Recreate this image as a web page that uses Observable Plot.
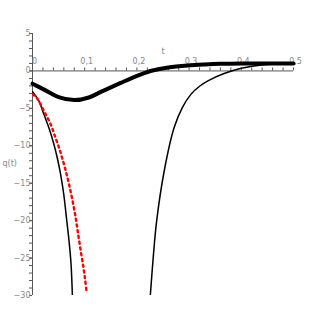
<!DOCTYPE html>
<html>
<head>
<meta charset="utf-8">
<script src="https://cdn.jsdelivr.net/npm/d3@7"></script>
<script src="https://cdn.jsdelivr.net/npm/@observablehq/plot@0.6"></script>
<style>
  html, body { margin: 0; padding: 0; background: #fff; }
  #chart svg { display: block; }
</style>
</head>
<body>
<div id="chart"></div>
<script>
// ---- data ----
const tThick = [0, 0.025, 0.05, 0.08, 0.108, 0.131, 0.15, 0.169, 0.19, 0.208, 0.23, 0.26, 0.2975, 0.33, 0.36, 0.4, 0.45, 0.5];
const qThick = [-1.7, -2.6, -3.5, -3.9, -3.55, -2.8, -2.2, -1.6, -0.95, -0.45, 0.05, 0.45, 0.72, 0.86, 0.95, 1.0, 1.0, 1.0];

const tThinA = [0, 0.0026, 0.0122, 0.0218, 0.0314, 0.041, 0.0474, 0.0538, 0.0595, 0.0625, 0.0655, 0.0686, 0.0718, 0.0742, 0.0764];
const qThinA = [-2.8, -3.0, -4.0, -5.8, -7.6, -9.8, -11.6, -13.8, -16.3, -18.0, -19.9, -21.8, -24.0, -26.2, -30.0];

const tThinB = [0.2257, 0.2313, 0.2379, 0.2525, 0.2712, 0.2870, 0.3038, 0.32, 0.336, 0.367, 0.4, 0.4385, 0.47, 0.5];
const qThinB = [-30.0, -24.9, -20.0, -13.3, -7.6, -4.9, -3.1, -2.05, -1.33, -0.35, 0.36, 0.8, 0.93, 0.98];

const tDots = [0, 0.0077, 0.0154, 0.025, 0.0346, 0.0429, 0.0506, 0.0571, 0.0635, 0.0698, 0.0763, 0.0827, 0.087, 0.0923, 0.0975, 0.1006, 0.1033];
const qDots = [-3.1, -3.56, -4.44, -5.77, -7.1, -8.7, -10.2, -11.7, -13.3, -15.1, -17.2, -19.6, -21.6, -24.0, -26.2, -27.8, -29.3];

const xTickValues = [0, 0.1, 0.2, 0.3, 0.4, 0.5];
const xTickLabels = ["0", "0,1", "0,2", "0,3", "0,4", "0,5"];
const xMinorTicks = [0.02, 0.04, 0.06, 0.08, 0.1, 0.12, 0.14, 0.16, 0.18, 0.2, 0.22, 0.24, 0.26, 0.28, 0.3,
                     0.32, 0.34, 0.36, 0.38, 0.4, 0.42, 0.44, 0.46, 0.48, 0.5];
const yTickValues = [5, 0, -5, -10, -15, -20, -25, -30];
const yMinorTicks = [5, 4, 3, 2, 1, 0, -1, -2, -3, -4, -5, -6, -7, -8, -9, -10, -11, -12, -13, -14, -15,
                     -16, -17, -18, -19, -20, -21, -22, -23, -24, -25, -26, -27, -28, -29, -30];
const xLabel = "t";
const yLabel = "q(t)";

const pts = (ts, qs) => ts.map((t, i) => ({t, q: qs[i]}));

const axisColor = "#555";
const textColor = "#888";

const chart = Plot.plot({
  width: 327,
  height: 327,
  marginLeft: 32,
  marginRight: 34,
  marginTop: 33,
  marginBottom: 32,
  style: {fontFamily: "DejaVu Sans", fontSize: "8px", background: "#fff"},
  x: {domain: [0, 0.5], axis: null},
  y: {domain: [-30, 5], axis: null},
  marks: [
    // y axis at t = 0 (left side of frame)
    Plot.ruleX([0], {stroke: axisColor, strokeWidth: 1}),
    Plot.axisY(yMinorTicks, {anchor: "left", tickSize: 3, tickFormat: () => "", label: null, stroke: axisColor}),
    Plot.axisY(yTickValues, {anchor: "left", tickSize: 3, tickPadding: -1, label: null, stroke: axisColor, fill: textColor, fontSize: 8}),
    // x axis at q = 0
    Plot.ruleY([0], {stroke: axisColor, strokeWidth: 1}),
    Plot.ruleX(xMinorTicks, {x: d => d, y1: 0, y2: 0, insetTop: -3, stroke: axisColor}),
    Plot.text(xTickValues, {x: d => d, y: 0, text: (d, i) => xTickLabels[i], dy: -9, dx: 2, fill: textColor, fontSize: 8}),
    // axis titles
    Plot.text([xLabel], {frameAnchor: "top", dy: 15, fill: textColor, fontSize: 8}),
    Plot.text([yLabel], {frameAnchor: "left", textAnchor: "start", dx: -30, dy: -1, fill: textColor, fontSize: 8, style: "letter-spacing:1.5px"}),
    // curves
    Plot.line(pts(tThick, qThick), {x: "t", y: "q", stroke: "black", strokeWidth: 4, curve: "catmull-rom"}),
    Plot.line(pts(tThinA, qThinA), {x: "t", y: "q", stroke: "black", strokeWidth: 1.5, curve: "catmull-rom", clip: true}),
    Plot.line(pts(tThinB, qThinB), {x: "t", y: "q", stroke: "black", strokeWidth: 1.5, curve: "catmull-rom", clip: true}),
    Plot.line(pts(tDots, qDots), {x: "t", y: "q", stroke: "#ff0000", strokeWidth: 2.4, strokeDasharray: "2.2,3.6", curve: "catmull-rom", clip: true})
  ]
});

document.getElementById("chart").appendChild(chart);
</script>
</body>
</html>
